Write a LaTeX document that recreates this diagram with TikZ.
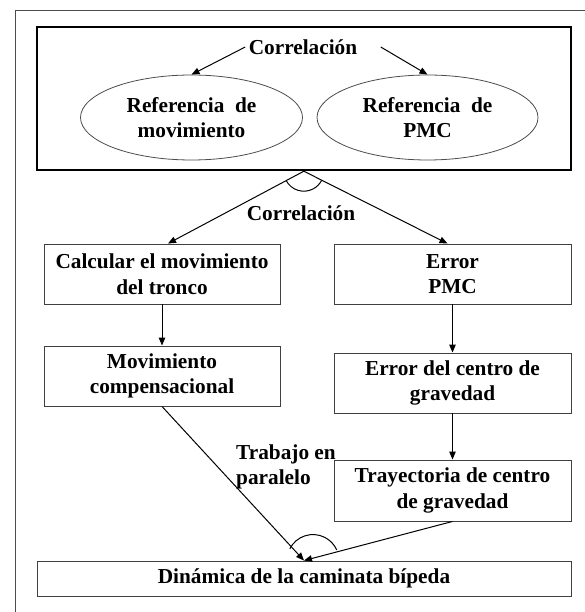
\documentclass[tikz,border=0pt]{standalone}
\usepackage{fontspec}
\setmainfont{Liberation Serif}
\usetikzlibrary{shapes.geometric,arrows.meta}

\begin{document}
\begin{tikzpicture}[x=1pt,y=-1pt,
		font=\fontsize{21.3}{25.5}\selectfont\bfseries,
		caja/.style={draw=black!75,line width=0.9pt,minimum width=236pt,minimum height=60pt,align=center,inner sep=0pt},
		elipse/.style={ellipse,draw=black!70,line width=0.8pt,minimum width=222pt,minimum height=85pt,align=center,inner sep=0pt},
		flecha/.style={-{Triangle[length=8pt,width=6.5pt]},line width=1pt}]
				\useasboundingbox (0,0) rectangle (585,612);
				\draw[black!70,line width=1.2pt] (15.5,612) -- (15.5,10.5) -- (585,10.5);
				\node[draw,line width=2.4pt,minimum width=534.3pt,minimum height=142.7pt,inner sep=0pt] (marco) at (303.85,98.65) {};
				\node (corr) at (303,47) {Correlación};
				\node[elipse] (refmov) at (191.5,117.5) {Referencia\ \ de\\movimiento};
				\node[elipse,minimum width=221pt] (refpmc) at (427.5,117.5) {Referencia\ \ de\\PMC};
				\node (corr2) at (301,213) {Correlación};
				\node[caja] (calc) at (162,274) {Calcular el movimiento\\del tronco};
				\node[caja,minimum width=237pt] (errpmc) at (452.5,274) {Error\\PMC};
				\node[caja] (movc) at (162,376) {Movimiento\\compensacional};
				\node[caja,minimum width=237pt] (errcg) at (452.5,383) {Error del centro de\\gravedad};
				\node[caja,minimum width=237pt,minimum height=61pt] (tray) at (452.5,490.5) {Trayectoria de centro\\de gravedad};
				\node[caja,minimum width=534pt,minimum height=35pt] (din) at (304,578.5) {Dinámica de la caminata bípeda};
				\node[align=left,anchor=west,inner sep=0pt] (trab) at (236,467) {Trabajo en\\paralelo};
				\draw[flecha] (corr.west) -- (refmov.north);
				\draw[flecha] ([xshift=20pt]corr.east) -- (refpmc.north);
				\draw[flecha] (marco.south) -- ([xshift=6pt]calc.north);
				\draw[flecha] (marco.south) -- ([xshift=-5pt]errpmc.north);
				\draw[flecha] (calc) -- (movc);
				\draw[flecha] (errpmc) -- (errcg);
				\draw[flecha] (errcg) -- (tray);
				\draw[flecha] (movc.south) -- (din.north);
				\draw[flecha] (tray.south) -- (din.north);
				\draw[line width=1pt] ([shift={(-152:20pt)}]marco.south) arc[start angle=-152,end angle=-28,radius=20pt];
				\draw[line width=1pt] ([xshift=9pt,shift={(153:26pt)}]din.north) arc[start angle=153,end angle=24,radius=26pt];
			\end{tikzpicture}
\end{document}
